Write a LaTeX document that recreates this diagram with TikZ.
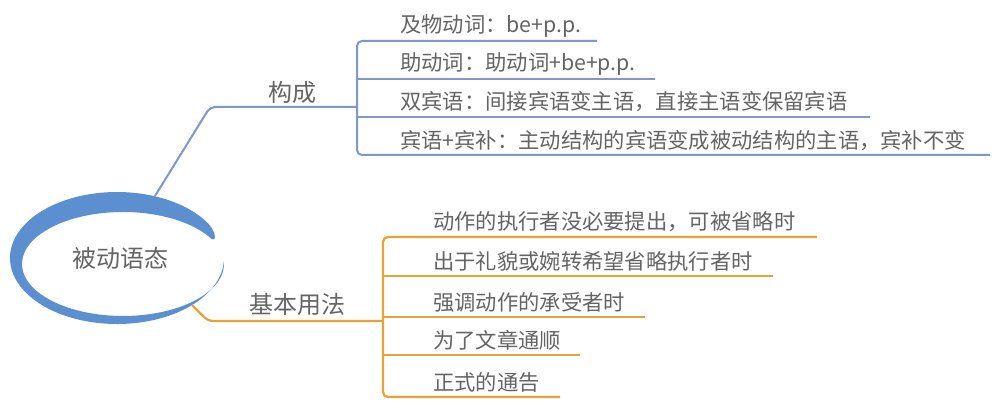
\documentclass[tikz,border=0pt]{standalone}
\usepackage{fontspec}
\setmainfont{Noto Sans CJK SC}
\definecolor{ellblue}{HTML}{5B8FD0}
\definecolor{lineblue}{HTML}{7F97CB}
\definecolor{lineorange}{HTML}{E5A33A}
\definecolor{txtgray}{HTML}{646464}
\begin{document}
\begin{tikzpicture}[x=1pt,y=1pt,
  leaf/.style={anchor=west, inner sep=0pt, text=txtgray, font=\fontsize{21.3}{24}\selectfont},
  mainlbl/.style={inner sep=0pt, text=txtgray, font=\fontsize{24}{28}\selectfont},
  bluel/.style={draw=lineblue, line width=2pt, rounded corners=5pt},
  orangel/.style={draw=lineorange, line width=2.2pt, rounded corners=5pt}]
\useasboundingbox (0,0) rectangle (1000,415);
\fill[white] (0,0) rectangle (1000,415);

% central crescent ellipse
\fill[ellblue] (207.74,191.97)
  arc[start angle=32, end angle=357.4, x radius=107, y radius=66]
  -- (223.83,154.0)
  arc[start angle=3.3, end angle=-328, x radius=101, y radius=52]
  .. controls (217.6,169.6) and (216.7,183.0) .. (207.74,191.97) -- cycle;
\node[mainlbl] (root) at (120,157) {被动语态};

% branch labels
\node[mainlbl] (gc) at (292,323) {构成};
\node[mainlbl] (yf) at (297,111) {基本用法};

% top branch coordinates
\coordinate (gcs) at (155,219);
\coordinate (gcb) at (210,308);
\coordinate (gcj) at (357,308);
\coordinate (t1a) at (357,374); \coordinate (t1b) at (597,374);
\coordinate (t2a) at (357,336); \coordinate (t2b) at (655,336);
\coordinate (t3a) at (357,298); \coordinate (t3b) at (870,298);
\coordinate (t4a) at (357,260); \coordinate (t4b) at (990,260);

\path[bluel] (gcs) -- (gcb) -- (gcj);
\path[bluel] (t1b) -- (t1a) -- (t4a) -- (t4b);
\path[bluel] (t2a) -- (t2b);
\path[bluel] (t3a) -- (t3b);

\node[leaf] (l1) at (400,389) {及物动词：be+p.p.};
\node[leaf] (l2) at (400,351) {助动词：助动词+be+p.p.};
\node[leaf] (l3) at (400,313) {双宾语：间接宾语变主语，直接主语变保留宾语};
\node[leaf] (l4) at (400,274) {宾语+宾补：主动结构的宾语变成被动结构的主语，宾补不变};

% bottom branch coordinates
\coordinate (yfs) at (192,110);
\coordinate (yfb) at (208,94);
\coordinate (yfj) at (383,94);
\coordinate (b1a) at (383,178); \coordinate (b1b) at (817,178);
\coordinate (b2a) at (383,139); \coordinate (b2b) at (773,139);
\coordinate (b3a) at (383,98);  \coordinate (b3b) at (645,98);
\coordinate (b4a) at (383,60);  \coordinate (b4b) at (580,60);
\coordinate (b5a) at (383,18);  \coordinate (b5b) at (560,18);

\path[orangel] (yfs) -- (yfb) -- (yfj);
\path[orangel] (b1b) -- (b1a) -- (b5a) -- (b5b);
\path[orangel] (b2a) -- (b2b);
\path[orangel] (b3a) -- (b3b);
\path[orangel] (b4a) -- (b4b);

\node[leaf] (m1) at (433,193) {动作的执行者没必要提出，可被省略时};
\node[leaf] (m2) at (433,154) {出于礼貌或婉转希望省略执行者时};
\node[leaf] (m3) at (433,113) {强调动作的承受者时};
\node[leaf] (m4) at (433,75)  {为了文章通顺};
\node[leaf] (m5) at (433,33)  {正式的通告};
\end{tikzpicture}
\end{document}
